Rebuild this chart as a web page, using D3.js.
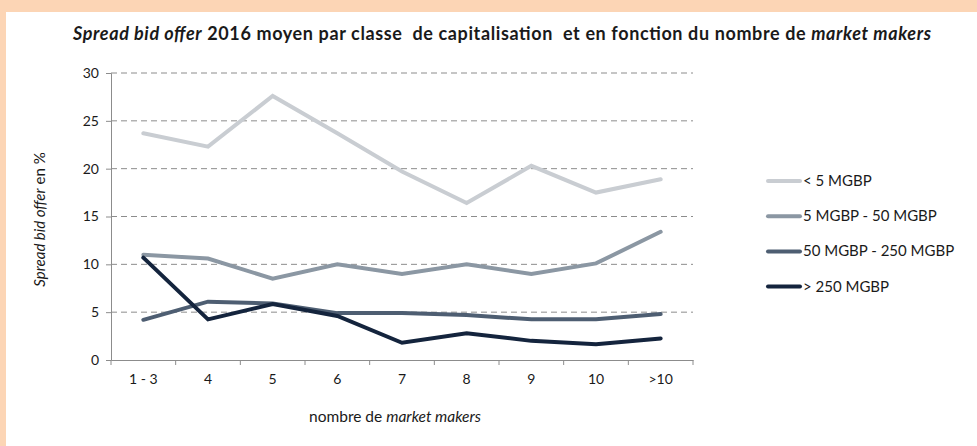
<!DOCTYPE html>
<html>
<head>
<meta charset="utf-8">
<script src="https://cdn.jsdelivr.net/npm/d3@7"></script>
<style>
  body { margin: 0; background: #ffffff; }
  svg text { font-family: Lato, "Open Sans", sans-serif; fill: #1a1a1a; white-space: pre; }
</style>
</head>
<body>
<div id="chart"></div>
<script>
const categories = ['1 - 3', '4', '5', '6', '7', '8', '9', '10', '>10'];
const yTicks = [0, 5, 10, 15, 20, 25, 30];

const seriesNames = ['< 5 MGBP', '5 MGBP - 50 MGBP', '50 MGBP - 250 MGBP', '> 250 MGBP'];
const small  = [23.7, 22.3, 27.6, 23.7, 19.7, 16.4, 20.3, 17.5, 18.9];
const mid    = [11.0, 10.6, 8.5, 10.0, 9.0, 10.0, 9.0, 10.1, 13.4];
const large  = [4.2, 6.1, 5.9, 4.9, 4.9, 4.7, 4.25, 4.25, 4.8];
const huge   = [10.7, 4.25, 5.85, 4.6, 1.8, 2.8, 2.0, 1.65, 2.25];
const colors = ['#c9cdd2', '#8b97a3', '#4e5e72', '#14243d'];

const W = 977, H = 446;
const margin = {top: 73, left: 111, right: 284, bottom: 86};
const width = W - margin.left - margin.right,
      height = H - margin.top - margin.bottom;

const svg = d3.select('#chart').append('svg')
    .attr('width', W)
    .attr('height', H);

// peach frame on top and left edges
svg.append('rect').attr('x', 0).attr('y', 0).attr('width', W).attr('height', H).attr('fill', '#fcd5b5');
svg.append('rect').attr('x', 6).attr('y', 12).attr('width', W - 6).attr('height', H - 12).attr('fill', '#ffffff');

const g = svg.append('g')
    .attr('transform', 'translate(' + margin.left + ',' + margin.top + ')');

const xScale = d3.scaleBand().domain(categories).range([0, width]),
      yScale = d3.scaleLinear().domain([0, 30]).range([height, 0]);

// dashed gridlines
g.selectAll('.grid')
    .data(yTicks.filter(function(d) { return d > 0; }))
  .enter().append('line')
    .attr('x1', 0).attr('x2', width)
    .attr('y1', function(d) { return yScale(d); })
    .attr('y2', function(d) { return yScale(d); })
    .attr('stroke', '#8c8c8c')
    .attr('stroke-width', 1)
    .attr('stroke-dasharray', '6,4');

// axes
const yAxis = g.append('g')
    .call(d3.axisLeft(yScale).tickValues(yTicks).tickSize(5).tickPadding(7));
const xAxis = g.append('g')
    .attr('transform', 'translate(0,' + height + ')')
    .call(d3.axisBottom(xScale).tickSize(0).tickPadding(14));

// x tick marks sit between categories
xAxis.selectAll('.sep')
    .data(d3.range(categories.length + 1))
  .enter().append('line')
    .attr('x1', function(i) { return i * xScale.step(); })
    .attr('x2', function(i) { return i * xScale.step(); })
    .attr('y1', 0).attr('y2', 5)
    .attr('stroke', '#8c8c8c');

[yAxis, xAxis].forEach(function(a) {
  a.select('.domain').attr('stroke', '#8c8c8c');
  a.selectAll('.tick line').attr('stroke', '#8c8c8c');
  a.selectAll('.tick text')
      .style('font-family', 'Lato, sans-serif')
      .style('font-size', '14px')
      .style('fill', '#1a1a1a');
});

// series lines
const line = d3.line()
    .x(function(d, i) { return xScale(categories[i]) + xScale.bandwidth() / 2; })
    .y(function(d) { return yScale(d); });

const allSeries = [small, mid, large, huge];
allSeries.forEach(function(values, k) {
  g.append('path')
      .datum(values)
      .attr('fill', 'none')
      .attr('stroke', colors[k])
      .attr('stroke-width', 4)
      .attr('stroke-linejoin', 'miter')
      .attr('stroke-linecap', 'round')
      .attr('d', line);
});

// title
const title = svg.append('text')
    .attr('x', 502).attr('y', 40)
    .attr('textLength', 858)
    .attr('lengthAdjust', 'spacing')
    .style('text-anchor', 'middle')
    .style('font-size', '18px')
    .style('font-weight', 'bold');
title.append('tspan').style('font-style', 'italic').text('Spread bid offer');
title.append('tspan').text(' 2016 moyen par classe  de capitalisation  et en fonction du nombre de ');
title.append('tspan').style('font-style', 'italic').text('market makers');

// y axis title
const yTitle = svg.append('text')
    .attr('transform', 'translate(45,' + (margin.top + height / 2 + 3) + ') rotate(-90)')
    .style('text-anchor', 'middle')
    .style('font-size', '15px');
yTitle.append('tspan').style('font-style', 'italic').text('Spread bid offer');
yTitle.append('tspan').text(' en %');

// x axis title
const xTitle = svg.append('text')
    .attr('x', margin.left + width / 2 - 7).attr('y', 422)
    .style('text-anchor', 'middle')
    .style('font-size', '15.5px');
xTitle.append('tspan').text('nombre de ');
xTitle.append('tspan').style('font-style', 'italic').text('market makers');

// legend
const legend = svg.append('g').attr('transform', 'translate(766,181)');
const item = legend.selectAll('g')
    .data(seriesNames)
  .enter().append('g')
    .attr('transform', function(d, i) { return 'translate(0,' + (i * 35.2) + ')'; });
item.append('line')
    .attr('x1', 2).attr('x2', 34)
    .attr('stroke', function(d, i) { return colors[i]; })
    .attr('stroke-width', 4)
    .attr('stroke-linecap', 'round');
item.append('text')
    .attr('x', 37).attr('y', 5)
    .style('font-size', '15px')
    .text(function(d) { return d; });
</script>
</body>
</html>
